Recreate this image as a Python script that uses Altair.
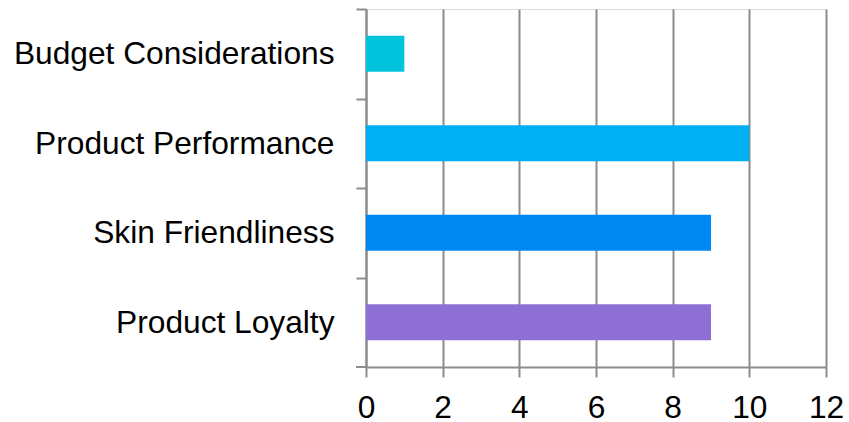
import altair as alt
import pandas as pd

categories = ["Budget Considerations", "Product Performance", "Skin Friendliness", "Product Loyalty"]
values = [1, 10, 9, 9]
colors = ["#00C4DC", "#00B0F2", "#0088F2", "#8E6FD6"]
x_ticks = [0, 2, 4, 6, 8, 10, 12]

df = pd.DataFrame({"category": categories, "value": values})

GRAY = "#8c8c8c"
FONT = "Liberation Sans"
STEP = 358 / 4.0

bars = alt.Chart(df).mark_bar().encode(
    y=alt.Y(
        "category:N",
        sort=categories,
        title=None,
        scale=alt.Scale(paddingInner=0.6, paddingOuter=0.3),
        axis=alt.Axis(
            tickOffset=-STEP / 2,
            labelOffset=STEP / 2,
            tickSize=10,
            tickWidth=2,
            tickColor=GRAY,
            domainColor=GRAY,
            domainWidth=2,
            labelPadding=22,
            labelFontSize=31.7,
            labelFont=FONT,
            labelColor="#000000",
            grid=False,
            labelLimit=500,
        ),
    ),
    x=alt.X(
        "value:Q",
        title=None,
        scale=alt.Scale(domain=[0, 12], nice=False),
        axis=alt.Axis(
            values=x_ticks,
            labelFlush=False,
            tickSize=10,
            tickWidth=2,
            tickColor=GRAY,
            domainColor=GRAY,
            domainWidth=2,
            gridColor=GRAY,
            gridWidth=2,
            gridOpacity=1,
            labelPadding=15,
            labelFontSize=31.7,
            labelFont=FONT,
            labelColor="#000000",
        ),
    ),
    color=alt.Color(
        "category:N",
        scale=alt.Scale(domain=categories, range=colors),
        legend=None,
    ),
)

bottom_tick = alt.Chart(df).mark_rule(color=GRAY, strokeWidth=2).encode(
    x=alt.value(-10), x2=alt.value(0), y=alt.value(358)
)

chart = alt.layer(bars, bottom_tick).properties(
    width=460,
    height=358,
    autosize=alt.AutoSizeParams(type="none"),
    padding={"left": 366, "top": 9, "right": 23, "bottom": 55},
).configure_view(stroke=None).configure(background="#ffffff")

chart.save("out.html", embed_options={"renderer": "svg", "actions": False})
